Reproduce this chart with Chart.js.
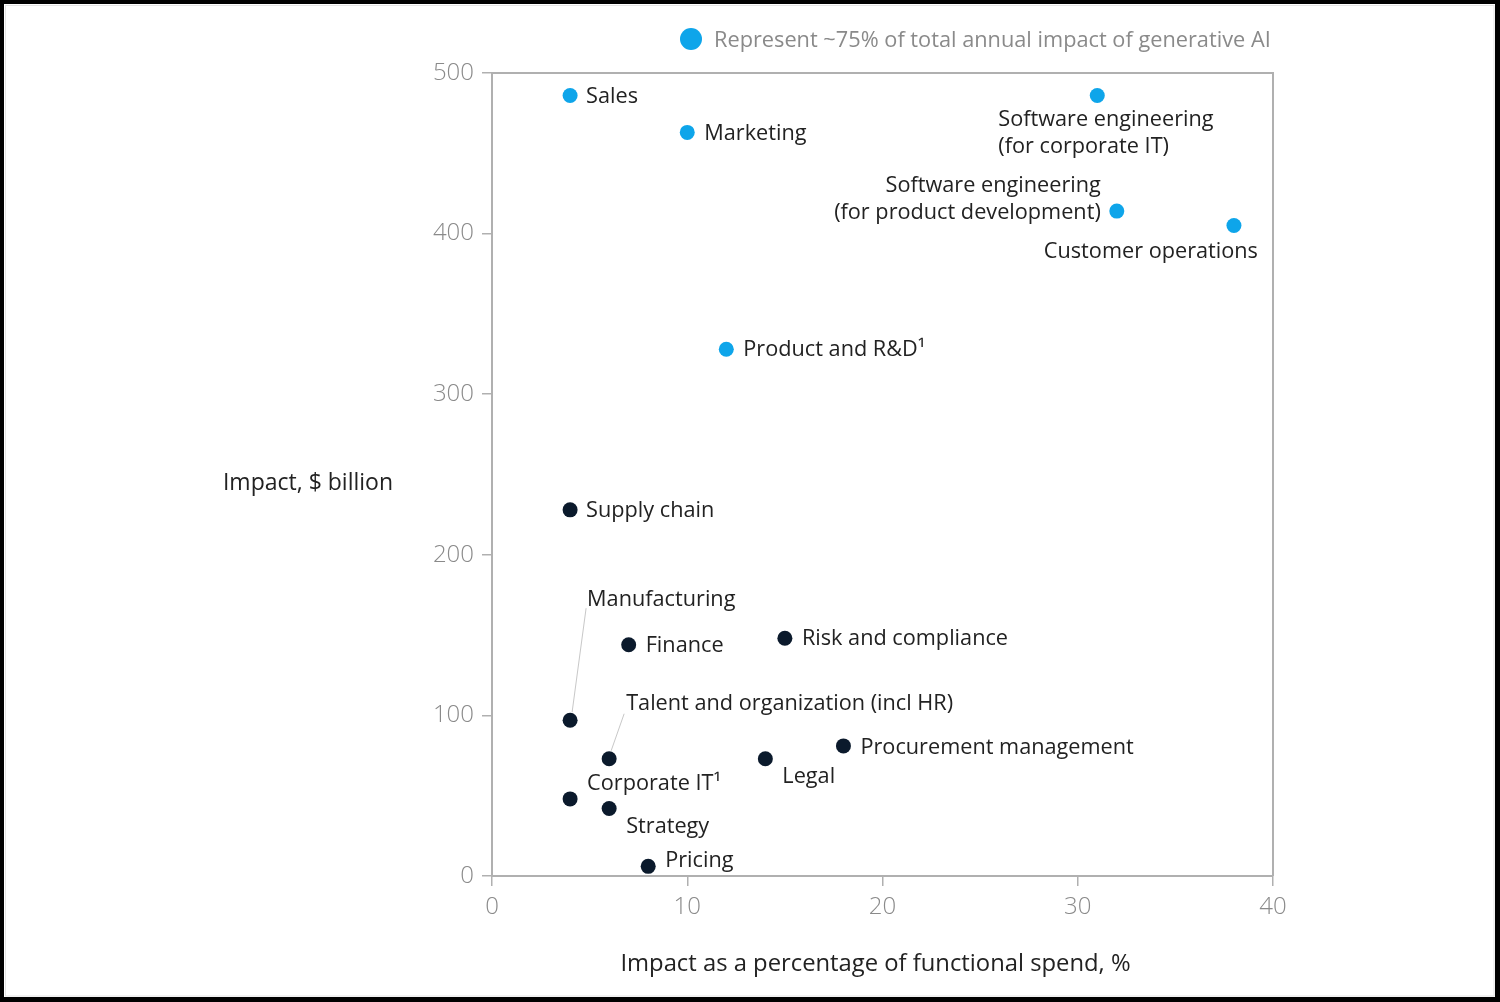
<!DOCTYPE html>
<html>
<head>
<meta charset="utf-8">
<script src="https://cdn.jsdelivr.net/npm/chart.js@4.4.1/dist/chart.umd.min.js"></script>
<style>
  html, body { margin: 0; padding: 0; background: #fff; overflow: hidden; }
  #wrap { width: 1500px; height: 1002px; position: relative; }
</style>
</head>
<body>
<div id="wrap"><canvas id="c" width="1500" height="1002"></canvas></div>
<script>
// ---- Data ----
const categories = [
  "Sales", "Marketing", "Software engineering\n(for corporate IT)",
  "Software engineering\n(for product development)", "Customer operations",
  "Product and R&D¹", "Supply chain", "Manufacturing", "Finance",
  "Risk and compliance", "Talent and organization (incl HR)", "Legal",
  "Procurement management", "Corporate IT¹", "Strategy", "Pricing"
];
const spendPct  = [4, 10, 31, 32, 38, 12, 4, 4, 7, 15, 6, 14, 18, 4, 6, 8];
const impactBn  = [486, 463, 486, 414, 405, 328, 228, 97, 144, 148, 73, 73, 81, 48, 42, 6];
const topGroup  = [true, true, true, true, true, true, false, false, false, false, false, false, false, false, false, false];
const xTicks = [0, 10, 20, 30, 40];
const yTicks = [0, 100, 200, 300, 400, 500];
const legendText = "Represent ~75% of total annual impact of generative AI";
const xTitle = "Impact as a percentage of functional spend, %";
const yTitle = "Impact, $ billion";

// ---- Label placement (style, not data) ----
const labelLayout = [
  {dx: 16, dy: 0, align: "left"},
  {dx: 17, dy: 0, align: "left"},
  {dx: -99, dy: 23, align: "left"},
  {dx: -16, dy: -26, align: "right"},
  {dx: 24, dy: 25, align: "right"},
  {dx: 17, dy: 0, align: "left"},
  {dx: 16, dy: 0, align: "left"},
  {dx: 17, dy: -121, align: "left", leader: [16, -112, 2, -8]},
  {dx: 17, dy: 0, align: "left"},
  {dx: 17, dy: 0, align: "left"},
  {dx: 17, dy: -56, align: "left", leader: [15, -45, 2, -8]},
  {dx: 17, dy: 17, align: "left"},
  {dx: 17, dy: 1, align: "left"},
  {dx: 17, dy: -16, align: "left"},
  {dx: 17, dy: 17, align: "left"},
  {dx: 17, dy: -7, align: "left"}
];

const BLUE = "#0ea5ea";
const NAVY = "#0b1a2c";
const FONT = "'Open Sans', Roboto, sans-serif";

const bluePts = [], navyPts = [];
categories.forEach((c, i) => {
  const p = {x: spendPct[i], y: impactBn[i], idx: i};
  (topGroup[i] ? bluePts : navyPts).push(p);
});

const framePlugin = {
  id: "frame",
  beforeDraw(chart) {
    const ctx = chart.ctx;
    ctx.save();
    ctx.fillStyle = "#fff";
    ctx.fillRect(0, 0, chart.width, chart.height);
    ctx.restore();
  },
  afterDraw(chart) {
    const ctx = chart.ctx;
    const a = chart.chartArea;
    ctx.save();
    ctx.strokeStyle = "#b0b0b0";
    ctx.lineWidth = 2;
    ctx.beginPath();
    ctx.moveTo(a.left, a.top);
    ctx.lineTo(a.right, a.top);
    ctx.lineTo(a.right, a.bottom);
    ctx.stroke();
    ctx.fillStyle = "#222";
    ctx.font = "23px " + FONT;
    ctx.textBaseline = "middle";
    ctx.textAlign = "right";
    ctx.fillText(yTitle, 393, 483);
    ctx.font = "23.8px " + FONT;
    ctx.textAlign = "center";
    ctx.fillText(xTitle, 875.5, 964);
    ctx.fillStyle = BLUE;
    ctx.beginPath();
    ctx.arc(691, 39, 11, 0, Math.PI * 2);
    ctx.fill();
    ctx.fillStyle = "#8a8a8a";
    ctx.font = "21.75px " + FONT;
    ctx.textAlign = "left";
    ctx.fillText(legendText, 714, 41);
    const xs = chart.scales.x, ys = chart.scales.y;
    ctx.font = "21.7px " + FONT;
    ctx.fillStyle = "#222";
    categories.forEach((name, i) => {
      const px = xs.getPixelForValue(spendPct[i]);
      const py = ys.getPixelForValue(impactBn[i]);
      const L = labelLayout[i];
      if (L.leader) {
        ctx.strokeStyle = "#c8c8c8";
        ctx.lineWidth = 1;
        ctx.beginPath();
        ctx.moveTo(px + L.leader[0], py + L.leader[1]);
        ctx.lineTo(px + L.leader[2], py + L.leader[3]);
        ctx.stroke();
      }
      ctx.textAlign = L.align;
      name.split("\n").forEach((line, k) => {
        ctx.fillText(line, px + L.dx, py + L.dy + 1 + k * 27);
      });
    });
    ctx.fillStyle = "#000";
    ctx.fillRect(0, 0, chart.width, 4);
    ctx.fillRect(0, 0, 4, chart.height);
    ctx.fillRect(chart.width - 5, 0, 5, chart.height);
    ctx.fillRect(0, chart.height - 5, chart.width, 5);
    ctx.strokeStyle = "#e4e4e4";
    ctx.lineWidth = 1;
    ctx.strokeRect(5.5, 5.5, chart.width - 11.5, chart.height - 11.5);
    ctx.restore();
  }
};

new Chart(document.getElementById("c"), {
  type: "scatter",
  data: {
    datasets: [
      {label: legendText, data: bluePts, backgroundColor: BLUE, borderColor: BLUE, pointRadius: 7.5, pointHoverRadius: 7.5, borderWidth: 0},
      {label: "Other", data: navyPts, backgroundColor: NAVY, borderColor: NAVY, pointRadius: 7.5, pointHoverRadius: 7.5, borderWidth: 0}
    ]
  },
  options: {
    responsive: false,
    animation: false,
    devicePixelRatio: 1,
    layout: {padding: {top: 73, right: 227, left: 0, bottom: 0}},
    plugins: {legend: {display: false}, tooltip: {enabled: false}},
    scales: {
      x: {
        type: "linear", min: 0, max: 40,
        afterBuildTicks: s => { s.ticks = xTicks.map(v => ({value: v})); },
        afterFit: s => { s.height = 126; },
        grid: {drawOnChartArea: false, drawTicks: true, tickLength: 10, color: "#b0b0b0", lineWidth: 1.5},
        border: {display: true, color: "#b0b0b0", width: 2},
        ticks: {color: "#8a8a8a", font: {size: 24, family: FONT, weight: 300}, padding: 7}
      },
      y: {
        type: "linear", min: 0, max: 500,
        afterBuildTicks: s => { s.ticks = yTicks.map(v => ({value: v})); },
        afterFit: s => { s.width = 492; },
        grid: {drawOnChartArea: false, drawTicks: true, tickLength: 10, color: "#b0b0b0", lineWidth: 1.5},
        border: {display: true, color: "#b0b0b0", width: 2},
        ticks: {color: "#8a8a8a", font: {size: 24, family: FONT, weight: 300}, padding: 8}
      }
    }
  },
  plugins: [framePlugin]
});
</script>
</body>
</html>
